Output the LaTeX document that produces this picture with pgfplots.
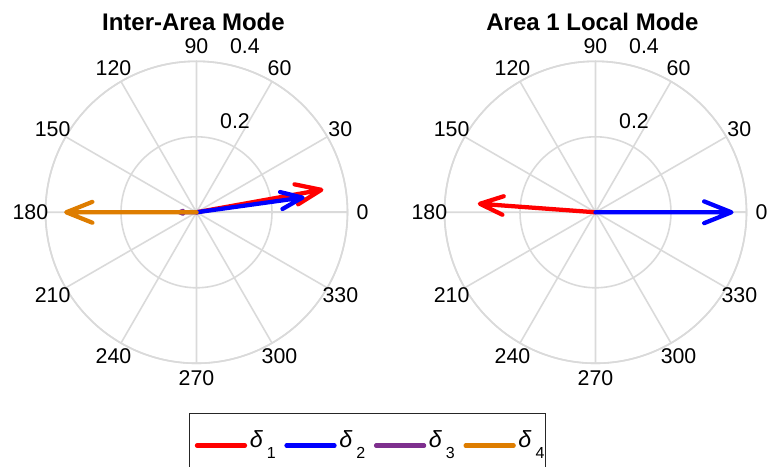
\documentclass[border=0pt]{standalone}
\usepackage{pgfplots}
\pgfplotsset{compat=1.18}
\usepgfplotslibrary{polar}
\usepackage{fontspec}
\setmainfont{Liberation Sans}

\definecolor{gridgray}{RGB}{218,218,218}
\definecolor{cred}{RGB}{255,0,0}
\definecolor{cblue}{RGB}{0,0,255}
\definecolor{cpurple}{RGB}{126,47,142}
\definecolor{corange}{RGB}{222,125,0}

\newcommand\tickfont{\fontsize{16}{16}\selectfont}
\newcommand\dsub[1]{\textit{δ}\,\raisebox{-8pt}{\fontsize{12}{12}\selectfont #1}}

% angle and radius labels of a compass plot
\newcommand\compasslabels{%
  \node[font=\tickfont] at (axis cs:0,0.44)   {0};
  \node[font=\tickfont] at (axis cs:30,0.44)  {30};
  \node[font=\tickfont] at (axis cs:60,0.44)  {60};
  \node[font=\tickfont] at (axis cs:90,0.44)  {90};
  \node[font=\tickfont] at (axis cs:120,0.44) {120};
  \node[font=\tickfont] at (axis cs:150,0.44) {150};
  \node[font=\tickfont] at (axis cs:180,0.44) {180};
  \node[font=\tickfont] at (axis cs:210,0.44) {210};
  \node[font=\tickfont] at (axis cs:240,0.44) {240};
  \node[font=\tickfont] at (axis cs:270,0.44) {270};
  \node[font=\tickfont] at (axis cs:300,0.44) {300};
  \node[font=\tickfont] at (axis cs:330,0.44) {330};
  \node[font=\tickfont] at (axis cs:67,0.2612)   {0.2};
  \node[font=\tickfont] at (axis cs:73.7,0.4575) {0.4};
}

\pgfplotsset{
  compassaxis/.style={
    scale only axis, width=226.5pt, height=226.5pt,
    anchor=center,
    xmin=0, xmax=360, ymin=0, ymax=0.4,
    xtick={0,30,...,330}, ytick={0.2,0.4},
    xticklabels={}, yticklabels={},
    major tick length=0pt,
    grid=major,
    major grid style={gridgray, line width=1.2pt},
    axis line style={gridgray, line width=1.2pt},
    clip=false,
    title style={font=\bfseries\fontsize{18}{18}\selectfont,
      at={(0.5,1)}, anchor=base, yshift=9pt, xshift=-2.3pt},
  },
  arrowline/.style={line width=3.2pt, line join=round, line cap=round},
}

\begin{document}
\begin{tikzpicture}
\useasboundingbox (0,0) rectangle (576pt,350.25pt);

% each arrow: origin -> tip -> barb -> tip -> barb, as (angle, magnitude)
\begin{polaraxis}[compassaxis,
  at={(147.375pt,191.03pt)},
  title={Inter-Area Mode},
  legend columns=4,
  legend style={at={(0.4752,-0.1646)}, anchor=north west,
    draw=black!85, line width=0.75pt,
    inner xsep=4pt, inner ysep=11pt,
    font=\fontsize{17.5}{17.5}\selectfont,
    /tikz/every even column/.append style={column sep=4.5pt}},
  legend image code/.code={\draw[#1] (0pt,-4pt) -- (36pt,-4pt);},
]
\addplot[arrowline, cred] coordinates
  {(0,0) (10.2,0.336) (15.91,0.2701) (10.2,0.336) (4.49,0.2701)};
\addlegendentry{\dsub{1}}
\addplot[arrowline, cblue] coordinates
  {(0,0) (7.9,0.2835) (13.61,0.2279) (7.9,0.2835) (2.19,0.2279)};
\addlegendentry{\dsub{2}}
\addplot[arrowline, cpurple] coordinates
  {(0,0) (180,0.045) (185.71,0.0362) (180,0.045) (174.29,0.0362)};
\addlegendentry{\dsub{3}}
\addplot[arrowline, corange] coordinates
  {(0,0) (180,0.345) (185.71,0.2774) (180,0.345) (174.29,0.2774)};
\addlegendentry{\dsub{4}\hspace*{-5pt}}
\compasslabels
\end{polaraxis}

\begin{polaraxis}[compassaxis,
  at={(446.625pt,191.03pt)},
  title={Area 1 Local Mode},
]
\addplot[arrowline, cred] coordinates
  {(0,0) (175.8,0.307) (181.51,0.2468) (175.8,0.307) (170.09,0.2468)};
\addplot[arrowline, cblue] coordinates
  {(0,0) (0,0.36) (5.71,0.2894) (0,0.36) (354.29,0.2894)};
\compasslabels
\end{polaraxis}
\end{tikzpicture}
\end{document}
